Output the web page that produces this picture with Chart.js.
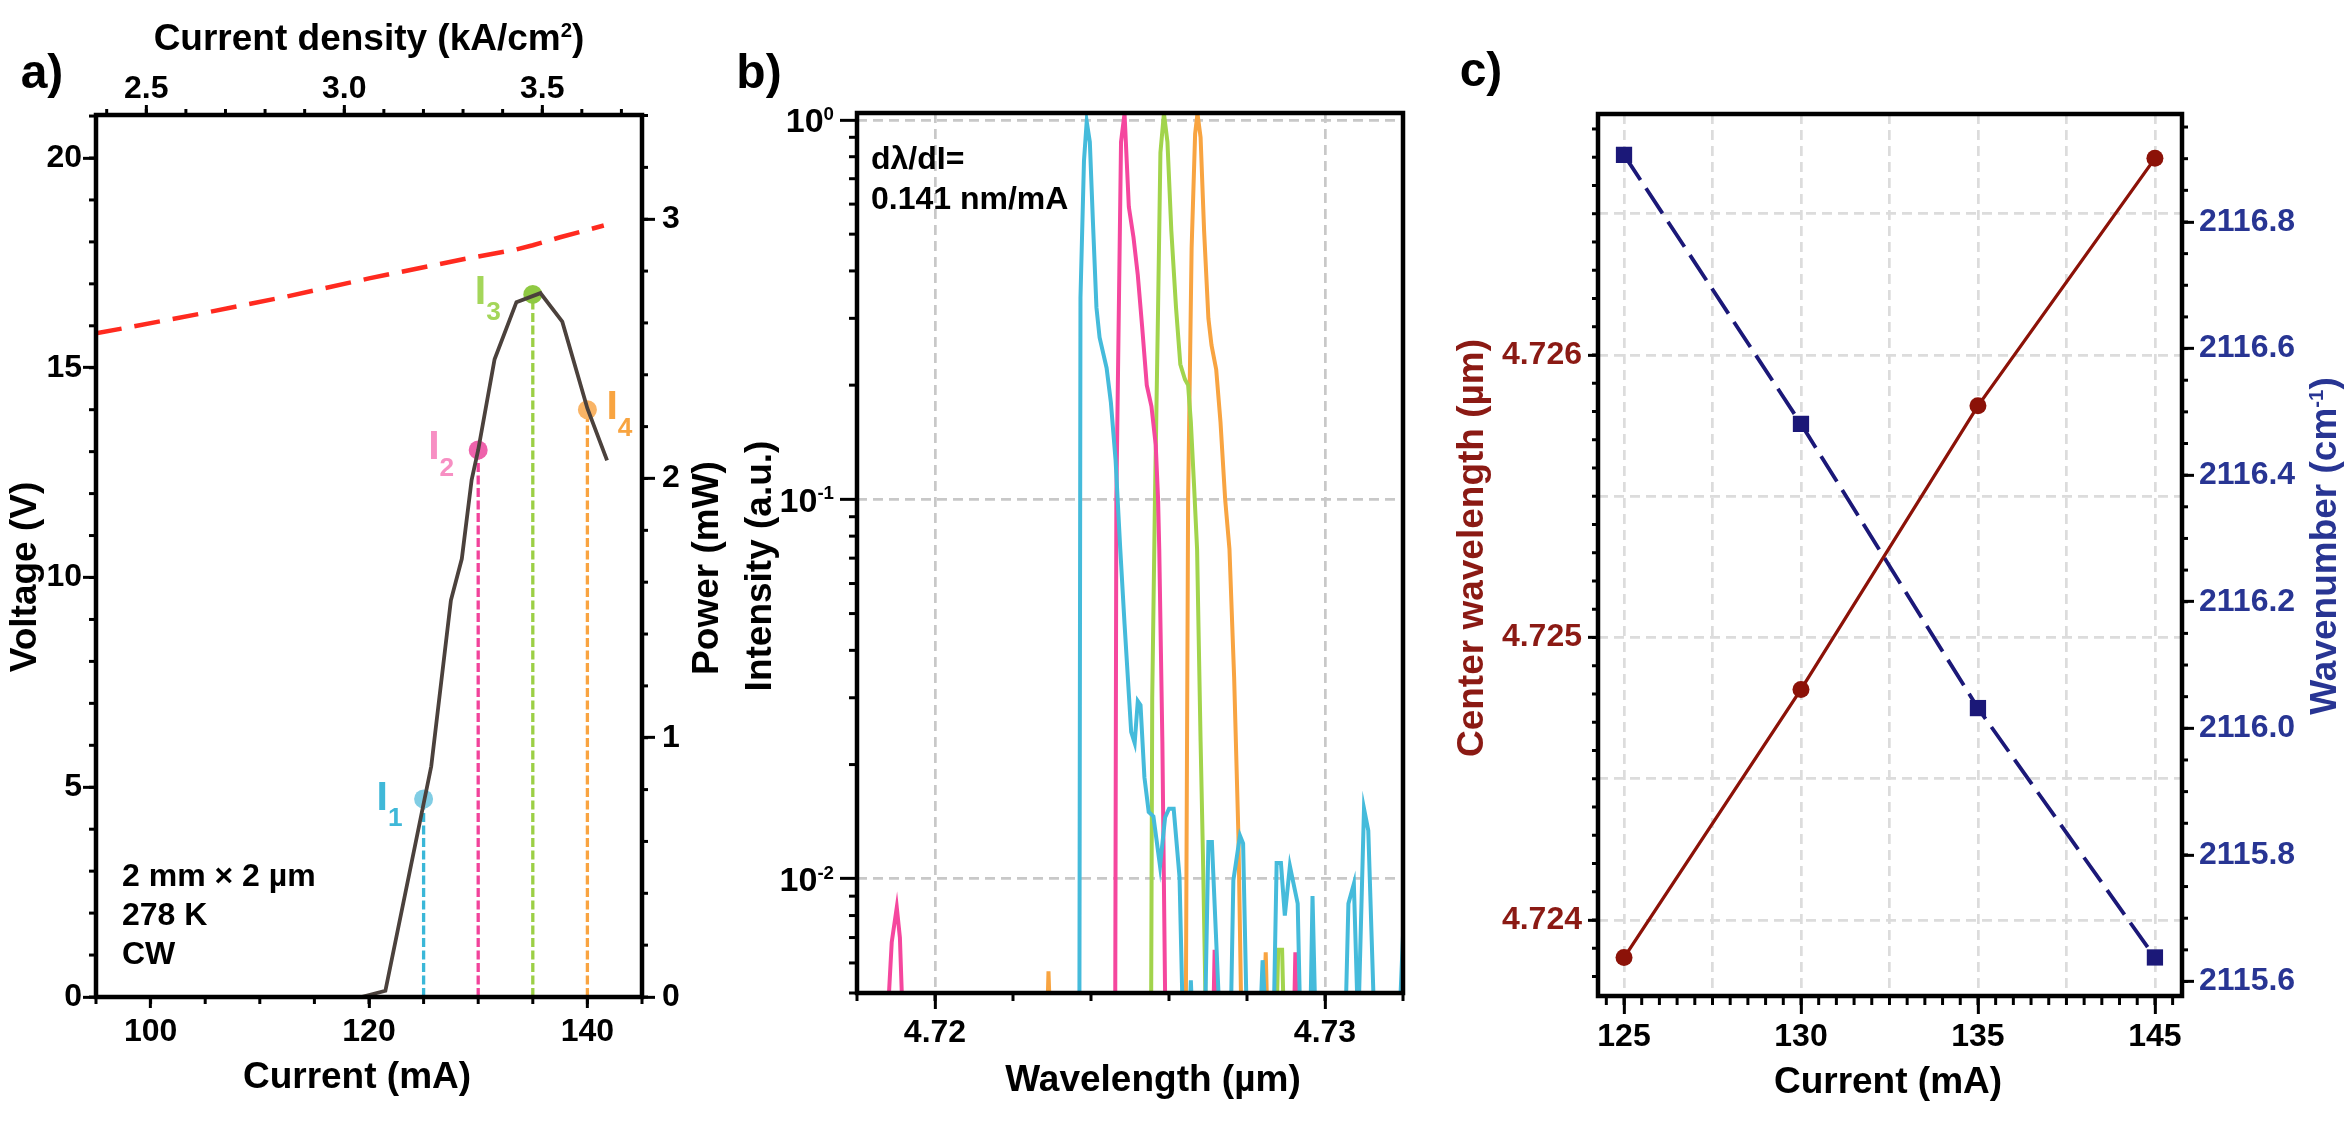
<!DOCTYPE html>
<html>
<head>
<meta charset="utf-8">
<script src="https://cdn.jsdelivr.net/npm/chart.js@4.4.1/dist/chart.umd.min.js"></script>
<style>
  html, body { margin: 0; padding: 0; background: #fff; }
  #fig { position: relative; width: 2349px; height: 1147px; overflow: hidden; background: #fff; }
  #fig canvas { position: absolute; top: 0; }
</style>
</head>
<body>
<div id="fig">
  <canvas id="ca" width="740" height="1147" style="left:0px;width:740px;height:1147px"></canvas>
  <canvas id="cb" width="740" height="1147" style="left:700px;width:740px;height:1147px"></canvas>
  <canvas id="cc" width="909" height="1147" style="left:1440px;width:909px;height:1147px"></canvas>
</div>
<script>
// ---- a) L-I-V ----
const ivCurrent = [95, 97.5, 105, 112.5, 120, 128.5, 133.5, 135, 137.5, 141.5];
const ivVoltage = [15.82, 15.94, 16.31, 16.7, 17.13, 17.58, 17.82, 17.92, 18.11, 18.39];
const liCurrent = [95, 119.3, 121.5, 125.7, 127.5, 128.5, 129.4, 130, 131.5, 133.5, 135.7, 137.7, 140, 141.8];
const liPower   = [0, 0, 0.024, 0.89, 1.53, 1.69, 1.995, 2.11, 2.46, 2.68, 2.715, 2.605, 2.27, 2.07];
const opCurrent = [125, 130, 135, 140];
const opPower   = [0.764, 2.11, 2.71, 2.265];
const opIndex   = ['1', '2', '3', '4'];
const aCurrentTicks = [100, 120, 140];
const aDensityTicks = [2.5, 3.0, 3.5];
const aVoltageTicks = [0, 5, 10, 15, 20];
const aPowerTicks   = [0, 1, 2, 3];

// ---- b) spectra ----
const cyanWl = [4.7180, 4.72370, 4.72373, 4.72382, 4.72389, 4.72397, 4.72405, 4.72414, 4.72422, 4.72440, 4.72451, 4.72463, 4.72475, 4.72486, 4.72503, 4.72512, 4.72520, 4.72527, 4.72537, 4.72548, 4.72560, 4.72577, 4.72590, 4.72600, 4.72612, 4.72627, 4.72636, 4.72652, 4.72656, 4.72661, 4.72692, 4.72701, 4.72710, 4.72731, 4.72758, 4.72765, 4.72782, 4.72790, 4.72800, 4.72833, 4.72840, 4.72850, 4.72868, 4.72876, 4.72887, 4.72897, 4.72910, 4.72930, 4.72937, 4.72962, 4.72968, 4.72976, 4.73052, 4.73060, 4.73074, 4.73085, 4.73100, 4.73111, 4.73127, 4.73190, 4.73200];
const cyanInt = [0.003, 0.003, 0.34, 0.78, 0.99, 0.875, 0.537, 0.32, 0.267, 0.222, 0.18, 0.127, 0.074, 0.047, 0.0244, 0.0228, 0.0294, 0.0287, 0.0185, 0.015, 0.0146, 0.0108, 0.0145, 0.0153, 0.0153, 0.0101, 0.004, 0.004, 0.0054, 0.004, 0.004, 0.0125, 0.0125, 0.004, 0.004, 0.0099, 0.013, 0.0124, 0.004, 0.004, 0.0061, 0.004, 0.004, 0.011, 0.011, 0.008, 0.0108, 0.0086, 0.004, 0.004, 0.009, 0.004, 0.004, 0.0086, 0.0097, 0.004, 0.0153, 0.0134, 0.004, 0.004, 0.0071];
const pinkWl = [4.7180, 4.71877, 4.71889, 4.71902, 4.71910, 4.71918, 4.72462, 4.72465, 4.72477, 4.72486, 4.72497, 4.72509, 4.72520, 4.72531, 4.72543, 4.72555, 4.72566, 4.72572, 4.72575, 4.72583, 4.72591, 4.72713, 4.72717, 4.72721, 4.72920, 4.72924, 4.72928, 4.7320];
const pinkInt = [0.003, 0.004, 0.0068, 0.0084, 0.0070, 0.004, 0.004, 0.1, 0.875, 1.04, 0.59, 0.49, 0.39, 0.286, 0.20, 0.176, 0.139, 0.10, 0.074, 0.023, 0.004, 0.004, 0.0065, 0.004, 0.004, 0.0064, 0.004, 0.003];
const greenWl = [4.7180, 4.72554, 4.72557, 4.72564, 4.72572, 4.72578, 4.72587, 4.72596, 4.72606, 4.72618, 4.72629, 4.72641, 4.72649, 4.72656, 4.72664, 4.72672, 4.72681, 4.72687, 4.72695, 4.72875, 4.72880, 4.72890, 4.72895, 4.7320];
const greenInt = [0.003, 0.004, 0.03, 0.1, 0.32, 0.82, 1.04, 0.875, 0.51, 0.32, 0.227, 0.207, 0.2, 0.16, 0.11, 0.074, 0.023, 0.0116, 0.004, 0.004, 0.0065, 0.0065, 0.004, 0.003];
const orangeWl = [4.7180, 4.72287, 4.72291, 4.72296, 4.72643, 4.72649, 4.72658, 4.72667, 4.72673, 4.72681, 4.72690, 4.72701, 4.72709, 4.72721, 4.72732, 4.72744, 4.72755, 4.72767, 4.72778, 4.72786, 4.72842, 4.72848, 4.72853, 4.7320];
const orangeInt = [0.003, 0.004, 0.0057, 0.004, 0.004, 0.1, 0.46, 0.92, 1.04, 0.9, 0.51, 0.30, 0.255, 0.22, 0.16, 0.1, 0.074, 0.034, 0.013, 0.004, 0.004, 0.0064, 0.004, 0.003];
const bWlTicks = [4.72, 4.73];
const bIntTicks = [0.01, 0.1, 1];
const bIntExp = ['-2', '-1', '0'];

// ---- c) tuning ----
const cCurrentLabels = ['125', '130', '135', '145'];
const cWavelength = [4.723867, 4.724816, 4.72582, 4.726696];
const cWavenumber = [2116.906, 2116.481, 2116.032, 2115.638];
const cWnTicks = [2115.6, 2115.8, 2116.0, 2116.2, 2116.4, 2116.6, 2116.8];

// colours
const cyan = '#45bbdb', pink = '#f5479e', green = '#a2d44c', orange = '#f8a441';
const opLine  = ['#3ab7d8', '#f2439b', '#9ccf45', '#f9a441'];
const opFill  = ['#80cde4', '#ee62ab', '#8fc943', '#f9b466'];
const opLabel = ['#3fb8d8', '#f78fc3', '#a4d65a', '#f8a440'];
const opDx = [-47, -50, -58, 19];
const opDy = [-4, -5.5, -5, -5];
const darkRed = '#8c1208', navy = '#1b1878', redTxt = '#8b1a14', blueTxt = '#283593';

const FONT = '"Liberation Sans", Arial, Helvetica, sans-serif';
Chart.defaults.font.family = FONT;
Chart.defaults.font.weight = 'bold';
Chart.defaults.color = '#000';

const pts = (xs, ys) => xs.map((x, i) => ({ x: x, y: ys[i] }));
const range = (a, b, step) => { const out = []; const n = Math.round((b - a) / step); for (let k = 0; k <= n; k++) out.push(a + k * step); return out; };
const tickFont = { size: 32, weight: 'bold', lineHeight: 1 };

function drawRuns(ctx, t, x, y) {
  const S = t.size || 32;
  const parts = t.runs.map(r => {
    const sz = r.sup ? S * 0.55 : r.sub ? S * 0.64 : S;
    ctx.font = 'bold ' + sz + 'px ' + FONT;
    return { r: r, sz: sz, w: ctx.measureText(r.s).width };
  });
  const total = parts.reduce((a, p) => a + p.w, 0);
  ctx.save();
  ctx.translate(x, y);
  if (t.rot) ctx.rotate(t.rot * Math.PI / 180);
  ctx.fillStyle = t.color || '#000';
  ctx.textBaseline = 'alphabetic';
  ctx.textAlign = 'left';
  let cx = t.align === 'left' ? 0 : t.align === 'right' ? -total : -total / 2;
  const base = 0.358 * S;
  parts.forEach(p => {
    ctx.font = 'bold ' + p.sz + 'px ' + FONT;
    const dy = p.r.sup ? -0.36 * S : p.r.sub ? 0.4 * S : 0;
    ctx.fillText(p.r.s, cx, base + dy);
    cx += p.w;
  });
  ctx.restore();
}

// minor ticks, frame and free text
const deco = {
  id: 'deco',
  afterDraw(chart, args, opts) {
    const ctx = chart.ctx, a = chart.chartArea;
    ctx.save();
    ctx.strokeStyle = '#000';
    ctx.lineWidth = 3;
    (opts.minor || []).forEach(m => {
      const s = chart.scales[m.axis];
      m.values.forEach(v => {
        const p = s.getPixelForValue(v);
        ctx.beginPath();
        if (s.position === 'left') {
          if (p < a.top - 1 || p > a.bottom + 1) return;
          ctx.moveTo(a.left, p); ctx.lineTo(a.left - m.len, p);
        } else if (s.position === 'right') {
          if (p < a.top - 1 || p > a.bottom + 1) return;
          ctx.moveTo(a.right, p); ctx.lineTo(a.right + m.len, p);
        } else if (s.position === 'bottom') {
          if (p < a.left - 1 || p > a.right + 1) return;
          ctx.moveTo(p, a.bottom); ctx.lineTo(p, a.bottom + m.len);
        } else {
          if (p < a.left - 1 || p > a.right + 1) return;
          ctx.moveTo(p, a.top); ctx.lineTo(p, a.top - m.len);
        }
        ctx.stroke();
      });
    });
    ctx.lineWidth = 4.5;
    ctx.strokeRect(a.left, a.top, a.right - a.left, a.bottom - a.top);
    ctx.restore();
    (opts.texts || []).forEach(t => {
      let x = t.x, y = t.y;
      if (t.at && t.at.xs) x = chart.scales[t.at.xs].getPixelForValue(t.at.x);
      if (t.at && t.at.ys) y = chart.scales[t.at.ys].getPixelForValue(t.at.y);
      drawRuns(ctx, t, x + (t.dx || 0), y + (t.dy || 0));
    });
  }
};
Chart.register(deco);

function axis(opts) {
  return {
    type: opts.type || 'linear',
    position: opts.position,
    min: opts.min, max: opts.max,
    afterBuildTicks: s => { s.ticks = opts.ticks.map(v => ({ value: v })); },
    afterFit: s => { if (opts.w !== undefined) s.width = opts.w; if (opts.h !== undefined) s.height = opts.h; },
    ticks: { font: tickFont, padding: opts.pad, autoSkip: false, maxRotation: 0, color: opts.color || '#000', callback: opts.label },
    grid: {
      drawOnChartArea: !!opts.gridColor, color: opts.gridColor || 'rgba(0,0,0,0)', lineWidth: 2.7,
      drawTicks: true, tickLength: opts.tl, tickWidth: 3, tickColor: opts.tickColor || '#000'
    },
    border: { display: false, dash: [10, 6] }
  };
}

const base = { responsive: false, animation: false, devicePixelRatio: 1, events: [] };

// ---------- panel a ----------
const aTexts = [
  { x: 42, y: 71, size: 48, runs: [{ s: 'a)' }] },
  { x: 369, y: 37, size: 37, runs: [{ s: 'Current density (kA/cm' }, { s: '2', sup: true }, { s: ')' }] },
  { x: 23, y: 577, rot: -90, size: 37, runs: [{ s: 'Voltage (V)' }] },
  { x: 705, y: 568, rot: -90, size: 37, runs: [{ s: 'Power (mW)' }] },
  { x: 357, y: 1075, size: 37, runs: [{ s: 'Current (mA)' }] },
  { x: 122, y: 875, align: 'left', size: 32, runs: [{ s: '2 mm × 2 µm' }] },
  { x: 122, y: 914, align: 'left', size: 32, runs: [{ s: '278 K' }] },
  { x: 122, y: 953, align: 'left', size: 32, runs: [{ s: 'CW' }] }
].concat(opCurrent.map((c, i) => ({
  at: { xs: 'x', x: c, ys: 'y2', y: opPower[i] }, dx: opDx[i], dy: opDy[i], align: 'left', size: 41, color: opLabel[i],
  runs: [{ s: 'I' }, { s: opIndex[i], sub: true }]
})));

new Chart(document.getElementById('ca'), {
  type: 'line',
  data: {
    datasets: [
      { data: pts(liCurrent, liPower), yAxisID: 'y2', borderColor: '#4b413c', borderWidth: 3.8, pointRadius: 0, tension: 0 },
      { data: pts(opCurrent, opPower), yAxisID: 'y2', showLine: false, pointRadius: 9.5, pointBorderWidth: 0, pointBackgroundColor: opFill },
      ...opCurrent.map((c, i) => ({
        data: [{ x: c, y: 0 }, { x: c, y: opPower[i] }], yAxisID: 'y2',
        borderColor: opLine[i], borderWidth: 3.3, borderDash: [9, 3.5], pointRadius: 0
      })),
      { data: pts(ivCurrent, ivVoltage), yAxisID: 'y', borderColor: '#ff2a1f', borderWidth: 4.5, borderDash: [26, 13], pointRadius: 0, tension: 0 }
    ]
  },
  options: Object.assign({}, base, {
    layout: { padding: 0 },
    plugins: {
      legend: { display: false }, tooltip: { enabled: false },
      deco: {
        minor: [
          { axis: 'y', values: range(0, 21, 1), len: 7 },
          { axis: 'y2', values: range(0, 3.4, 0.2), len: 6 },
          { axis: 'x', values: range(95, 145, 5), len: 7 },
          { axis: 'x2', values: range(2.4, 3.7, 0.1), len: 6 }
        ],
        texts: aTexts
      }
    },
    scales: {
      x: axis({ position: 'bottom', min: 95, max: 145, ticks: aCurrentTicks, h: 150, pad: 8, tl: 11, label: v => String(v) }),
      x2: axis({ position: 'top', min: 2.373, max: 3.752, ticks: aDensityTicks, h: 115, pad: 0, tl: 10, label: v => v.toFixed(1) }),
      y: axis({ position: 'left', min: 0, max: 21.025, ticks: aVoltageTicks, w: 96, pad: 1, tl: 13, label: v => String(v) }),
      y2: axis({ position: 'right', min: 0, max: 3.402, ticks: aPowerTicks, w: 98, pad: 7, tl: 13, label: v => String(v) })
    }
  })
});

// ---------- panel b ----------
const bTexts = [
  { x: 59, y: 71, size: 48, runs: [{ s: 'b)' }] },
  { x: 58, y: 566, rot: -90, size: 37, runs: [{ s: 'Intensity (a.u.)' }] },
  { x: 453, y: 1078, size: 37, runs: [{ s: 'Wavelength (µm)' }] },
  { x: 171, y: 158, align: 'left', size: 32, runs: [{ s: 'dλ/dI=' }] },
  { x: 171, y: 198, align: 'left', size: 32, runs: [{ s: '0.141 nm/mA' }] }
].concat(bIntTicks.map((v, i) => ({
  x: 134, at: { ys: 'y', y: v }, align: 'right', size: 34, runs: [{ s: '10' }, { s: bIntExp[i], sup: true }]
})));

const bMinor = [];
[0.001, 0.01, 0.1].forEach(d => { for (let k = 2; k <= 9; k++) bMinor.push(k * d); });

new Chart(document.getElementById('cb'), {
  type: 'line',
  data: {
    datasets: [
      { data: pts(cyanWl, cyanInt), borderColor: cyan, borderWidth: 4, pointRadius: 0, tension: 0 },
      { data: pts(pinkWl, pinkInt), borderColor: pink, borderWidth: 4, pointRadius: 0, tension: 0 },
      { data: pts(greenWl, greenInt), borderColor: green, borderWidth: 4, pointRadius: 0, tension: 0 },
      { data: pts(orangeWl, orangeInt), borderColor: orange, borderWidth: 4, pointRadius: 0, tension: 0 }
    ]
  },
  options: Object.assign({}, base, {
    layout: { padding: { top: 113, right: 37 } },
    plugins: {
      legend: { display: false }, tooltip: { enabled: false },
      deco: {
        minor: [
          { axis: 'x', values: range(4.718, 4.732, 0.002), len: 8 },
          { axis: 'y', values: bMinor, len: 8 }
        ],
        texts: bTexts
      }
    },
    scales: {
      x: axis({ position: 'bottom', min: 4.718, max: 4.732, ticks: bWlTicks, h: 154, pad: 8.5, tl: 16, gridColor: '#c8c8c8', label: v => v.toFixed(2) }),
      y: axis({ type: 'logarithmic', position: 'left', min: 0.005, max: 1.043, ticks: bIntTicks, w: 157, pad: 6, tl: 17, gridColor: '#c8c8c8', label: () => '' })
    }
  })
});

// ---------- panel c ----------
const cTexts = [
  { x: 41, y: 69, size: 48, runs: [{ s: 'c)' }] },
  { x: 30, y: 548, rot: -90, size: 37, color: redTxt, runs: [{ s: 'Center wavelength (µm)' }] },
  { x: 883, y: 546, rot: -90, size: 37, color: blueTxt, runs: [{ s: 'Wavenumber (cm' }, { s: '-1', sup: true }, { s: ')' }] },
  { x: 448, y: 1080, size: 37, runs: [{ s: 'Current (mA)' }] }
];
const isWhole = v => Math.abs(v - Math.round(v)) < 1e-6;
const isMilli = v => Math.round(v * 2000) % 2 === 0;

new Chart(document.getElementById('cc'), {
  type: 'line',
  data: {
    datasets: [
      { data: cWavelength.map((v, i) => ({ x: i, y: v })), yAxisID: 'y', borderColor: darkRed, borderWidth: 3.3,
        pointRadius: 8.5, pointBorderWidth: 0, pointBackgroundColor: darkRed, tension: 0 },
      { data: cWavenumber.map((v, i) => ({ x: i, y: v })), yAxisID: 'y2', borderColor: navy, borderWidth: 3.8, borderDash: [30, 10],
        pointStyle: 'rect', pointRadius: 11.5, pointBorderWidth: 0, pointBackgroundColor: navy, tension: 0 }
    ]
  },
  options: Object.assign({}, base, {
    layout: { padding: { top: 114 } },
    plugins: {
      legend: { display: false }, tooltip: { enabled: false },
      deco: {
        minor: [
          { axis: 'x', values: range(-0.1, 3.1, 0.1), len: 9 },
          { axis: 'y', values: range(4.7238, 4.7268, 0.0001), len: 6 },
          { axis: 'y2', values: range(2115.6, 2116.95, 0.05), len: 6 }
        ],
        texts: cTexts
      }
    },
    scales: {
      x: axis({ position: 'bottom', min: -0.147, max: 3.153, ticks: range(0, 3, 0.5), h: 151, pad: 7.5, tl: 18, gridColor: '#dcdcdc',
        tickColor: c => isWhole(c.tick.value) ? '#000' : 'rgba(0,0,0,0)',
        label: v => isWhole(v) ? cCurrentLabels[Math.round(v)] : '' }),
      y: axis({ position: 'left', min: 4.723731, max: 4.726853, ticks: range(4.724, 4.7265, 0.0005), w: 158, pad: 6, tl: 10, gridColor: '#dcdcdc',
        color: redTxt, tickColor: c => isMilli(c.tick.value) ? '#000' : 'rgba(0,0,0,0)',
        label: v => isMilli(v) ? v.toFixed(3) : '' }),
      y2: axis({ position: 'right', min: 2115.5771, max: 2116.9706, ticks: cWnTicks, w: 167, pad: 5, tl: 12,
        color: blueTxt, label: v => v.toFixed(1) })
    }
  })
});
</script>
</body>
</html>
